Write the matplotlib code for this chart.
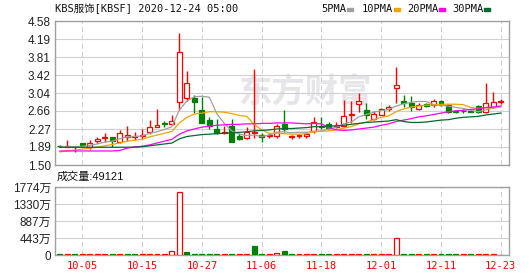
import numpy as np
import matplotlib
matplotlib.use("Agg")
import matplotlib.pyplot as plt
from matplotlib.patches import Rectangle

# daily candles, 2020-09-30 .. 2020-12-23
open_ = np.array([1.91, 1.89, 1.88, 1.96, 1.88, 2.01, 2.08, 2.09, 2.00, 2.09,
                  2.10, 2.11, 2.20, 2.32, 2.39, 2.37, 2.84, 2.93, 2.94, 2.68,
                  2.46, 2.27, 2.18, 2.33, 2.13, 2.07, 2.19, 2.14, 2.13, 2.11,
                  2.38, 2.10, 2.11, 2.12, 2.23, 2.33, 2.37, 2.31, 2.33, 2.57,
                  2.80, 2.68, 2.48, 2.57, 2.69, 3.14, 2.87, 2.82, 2.69, 2.80,
                  2.78, 2.87, 2.78, 2.66, 2.66, 2.66, 2.76, 2.64, 2.73, 2.85])
close = np.array([1.90, 1.91, 1.89, 1.93, 1.96, 2.06, 2.09, 2.02, 2.18, 2.14,
                  2.12, 2.14, 2.31, 2.35, 2.38, 2.44, 3.91, 3.25, 2.84, 2.40,
                  2.33, 2.19, 2.21, 2.00, 2.05, 2.21, 2.20, 2.09, 2.14, 2.33,
                  2.26, 2.11, 2.14, 2.17, 2.41, 2.31, 2.30, 2.34, 2.55, 2.59,
                  2.86, 2.57, 2.59, 2.69, 2.73, 3.21, 2.83, 2.73, 2.78, 2.76,
                  2.86, 2.78, 2.64, 2.63, 2.65, 2.64, 2.64, 2.82, 2.84, 2.86])
high = np.array([1.92, 2.03, 1.90, 1.97, 2.03, 2.09, 2.18, 2.10, 2.25, 2.33,
                 2.20, 2.28, 2.46, 2.70, 2.45, 2.58, 4.33, 3.51, 3.00, 2.95,
                 2.52, 2.49, 2.33, 2.48, 2.18, 2.32, 3.55, 2.18, 2.18, 2.38,
                 2.68, 2.15, 2.17, 2.20, 2.53, 2.53, 2.42, 2.41, 2.89, 2.86,
                 3.05, 2.82, 2.65, 2.72, 2.78, 3.60, 3.00, 2.97, 2.83, 2.82,
                 2.91, 2.88, 2.80, 2.67, 2.69, 2.67, 2.78, 3.25, 3.07, 2.91])
low = np.array([1.89, 1.88, 1.77, 1.88, 1.84, 1.98, 1.99, 1.89, 1.98, 2.02,
                2.03, 2.06, 2.16, 2.31, 2.31, 2.36, 2.68, 2.87, 2.61, 2.40,
                2.28, 2.16, 2.17, 2.00, 2.03, 2.06, 2.07, 2.00, 2.07, 2.07,
                2.21, 2.05, 2.08, 2.08, 2.18, 2.28, 2.28, 2.29, 2.32, 2.39,
                2.64, 2.48, 2.46, 2.56, 2.65, 2.82, 2.73, 2.66, 2.68, 2.75,
                2.75, 2.77, 2.62, 2.61, 2.61, 2.63, 2.61, 2.62, 2.71, 2.80])
# volume in 万 shares
vol = np.array([18, 22, 15, 20, 25, 30, 20, 18, 26, 22,
                24, 20, 28, 26, 22, 97, 1655, 70, 24, 20,
                22, 18, 20, 24, 18, 22, 227, 20, 18, 63,
                97, 18, 20, 22, 36, 20, 22, 18, 24, 26,
                22, 20, 24, 22, 20, 454, 22, 20, 24, 22,
                20, 24, 22, 20, 18, 22, 20, 36, 20, 4.9])

# moving averages as shown on the chart
ma5 = [1.88, 1.89, 1.89, 1.90, 1.92, 1.95, 1.99, 2.01, 2.06, 2.10,
       2.11, 2.12, 2.18, 2.21, 2.26, 2.32, 2.68, 2.87, 2.96, 2.97,
       2.95, 2.60, 2.39, 2.23, 2.16, 2.13, 2.14, 2.11, 2.14, 2.20,
       2.21, 2.19, 2.20, 2.20, 2.22, 2.23, 2.27, 2.31, 2.38, 2.42,
       2.53, 2.58, 2.63, 2.66, 2.69, 2.76, 2.81, 2.84, 2.86, 2.86,
       2.79, 2.78, 2.76, 2.73, 2.71, 2.67, 2.64, 2.68, 2.72, 2.76]
ma10 = [1.78, 1.80, 1.82, 1.84, 1.86, 1.88, 1.91, 1.94, 1.97, 2.01,
        2.03, 2.05, 2.10, 2.14, 2.18, 2.22, 2.40, 2.52, 2.59, 2.61,
        2.64, 2.64, 2.63, 2.60, 2.56, 2.54, 2.37, 2.25, 2.18, 2.18,
        2.17, 2.16, 2.16, 2.17, 2.21, 2.22, 2.23, 2.25, 2.29, 2.32,
        2.38, 2.42, 2.47, 2.52, 2.55, 2.64, 2.70, 2.74, 2.76, 2.78,
        2.78, 2.80, 2.80, 2.80, 2.79, 2.73, 2.71, 2.72, 2.73, 2.74]
ma20 = [1.80, 1.80, 1.80, 1.80, 1.80, 1.80, 1.80, 1.80, 1.81, 1.86,
        1.89, 1.90, 1.93, 1.97, 2.01, 2.05, 2.16, 2.23, 2.27, 2.31,
        2.33, 2.35, 2.36, 2.37, 2.37, 2.38, 2.38, 2.39, 2.39, 2.40,
        2.40, 2.40, 2.39, 2.38, 2.39, 2.38, 2.30, 2.25, 2.24, 2.25,
        2.27, 2.29, 2.31, 2.35, 2.38, 2.43, 2.46, 2.49, 2.53, 2.55,
        2.58, 2.61, 2.64, 2.66, 2.67, 2.69, 2.70, 2.73, 2.74, 2.76]
ma30 = [1.88, 1.88, 1.88, 1.88, 1.88, 1.88, 1.88, 1.88, 1.88, 1.88,
        1.88, 1.89, 1.91, 1.93, 1.95, 1.97, 2.06, 2.11, 2.13, 2.15,
        2.16, 2.17, 2.18, 2.19, 2.20, 2.21, 2.23, 2.24, 2.25, 2.27,
        2.28, 2.28, 2.29, 2.30, 2.32, 2.32, 2.33, 2.34, 2.35, 2.37,
        2.39, 2.41, 2.42, 2.43, 2.44, 2.47, 2.43, 2.41, 2.41, 2.42,
        2.44, 2.46, 2.47, 2.50, 2.52, 2.53, 2.54, 2.57, 2.59, 2.61]

date_labels = ["10-05", "10-15", "10-27", "11-06", "11-18", "12-01", "12-11", "12-23"]
date_idx = [3, 11, 19, 27, 35, 43, 51, 59]
price_ticks = [1.50, 1.89, 2.27, 2.66, 3.04, 3.42, 3.81, 4.19, 4.58]
vol_ticks = [0, 443, 887, 1330, 1774]

RED = "#ff0000"
GREEN = "#008000"
GRID = "#d0d0d0"
FRAME = "#a0a0a0"
CJK = ["Liberation Sans", "Noto Sans CJK SC"]
MONO = ["DejaVu Sans Mono", "Noto Sans CJK SC"]

W, H = 530, 276
fig = plt.figure(figsize=(W / 100, H / 100), dpi=100)


def box(l, t, r, b):
    return [l / W, 1 - b / H, (r - l) / W, (b - t) / H]


ax = fig.add_axes(box(55, 21, 509, 165))
axv = fig.add_axes(box(55, 187, 509, 255))
x = np.arange(len(close))
xlim = (-0.65, 60.1)

# watermark
ax.text(0.55, 0.5, "东方财富", transform=ax.transAxes, fontsize=24, fontweight="bold",
        color="#e6e6ea", family="Noto Sans CJK SC", ha="center", va="center", zorder=0)

# candles
up = close >= open_
ax.vlines(x, low, high, colors=np.where(up, RED, GREEN), lw=1.0, zorder=2)
body = np.maximum(np.abs(close - open_), 0.008)
ax.bar(x, body, bottom=np.minimum(open_, close), width=0.66,
       color=np.where(up, "white", GREEN), edgecolor=np.where(up, RED, GREEN),
       lw=0.9, zorder=3)

ax.plot(x, ma5, color="#a0a0a0", lw=0.9, zorder=4)
ax.plot(x, ma10, color="#f5a200", lw=0.9, zorder=4)
ax.plot(x, ma20, color="#ff00ff", lw=0.9, zorder=4)
ax.plot(x, ma30, color="#006b2e", lw=0.9, zorder=4)

ax.set_xlim(*xlim)
ax.set_ylim(price_ticks[0], price_ticks[-1])
ax.set_yticks(price_ticks)
ax.set_yticklabels([f"{v:.2f}" for v in price_ticks], family="Liberation Sans",
                   fontsize=8.5, color="#222222")
ax.set_xticks(date_idx)
ax.tick_params(axis="x", labelbottom=False, length=0)
ax.tick_params(axis="y", length=0, pad=3)
ax.yaxis.grid(True, color=GRID, lw=0.8)
ax.xaxis.grid(True, color=GRID, lw=0.75, linestyle=(0, (5, 3)))
ax.set_axisbelow(True)

# volume
prev = np.concatenate([[open_[0]], close[:-1]])
vup = close >= prev
axv.bar(x, vol, width=0.66, color=np.where(vup, "white", GREEN),
        edgecolor=np.where(vup, RED, GREEN), lw=0.9, zorder=3)
axv.set_xlim(*xlim)
axv.set_ylim(0, vol_ticks[-1])
axv.set_yticks(vol_ticks)
axv.set_yticklabels(["0"] + [f"{v}万" for v in vol_ticks[1:]], family=CJK,
                    fontsize=8.5, color="#222222")
axv.set_xticks(date_idx)
axv.set_xticklabels(date_labels, family=MONO, fontsize=7.5, color=RED)
axv.tick_params(axis="x", length=0, pad=4)
axv.tick_params(axis="y", length=0, pad=3)
axv.yaxis.grid(True, color=GRID, lw=0.8)
axv.xaxis.grid(True, color=GRID, lw=0.75, linestyle=(0, (5, 3)))
axv.set_axisbelow(True)

for a in (ax, axv):
    for s in a.spines.values():
        s.set_color(FRAME)
        s.set_linewidth(1.0)

# header texts
fig.text(55 / W, 1 - 9 / H, "KBS服饰[KBSF] 2020-12-24 05:00", family=MONO,
         fontsize=7.5, color="#111111", va="center", ha="left")
legend = [("5PMA", 321, "#a0a0a0"), ("10PMA", 362, "#f5a200"),
          ("20PMA", 407, "#ff00ff"), ("30PMA", 452, "#006b2e")]
for name, lx, col in legend:
    t = fig.text(lx / W, 1 - 9 / H, name, family=MONO, fontsize=7.5,
                 color="#111111", va="center", ha="left")
    sx = lx + 6 * len(name) + 2
    fig.patches.append(Rectangle((sx / W, 1 - 11 / H), 6 / W, 3 / H,
                                 transform=fig.transFigure, color=col))

fig.text(57 / W, 1 - 177 / H, "成交量:49121", family=CJK, fontsize=8,
         color="#111111", va="center", ha="left")

fig.savefig("out.png", dpi=100)
